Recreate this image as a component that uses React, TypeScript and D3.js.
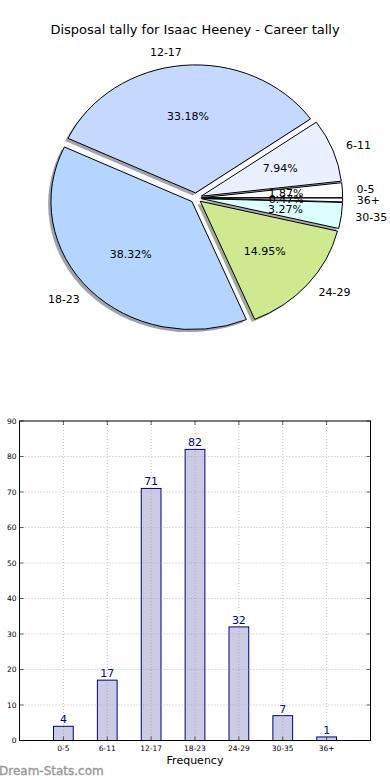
import React from 'react';
import * as d3 from 'd3';

// Disposal counts per bucket
const categories = ['0-5', '6-11', '12-17', '18-23', '24-29', '30-35', '36+'];
const counts = [4, 17, 71, 82, 32, 7, 1];
const sliceColors = ['#ffffff', '#eaf0ff', '#c5d9ff', '#b4d5ff', '#cfea8e', '#dbffff', '#ffffff'];
const yTicks = [0, 10, 20, 30, 40, 50, 60, 70, 80, 90];

const title = 'Disposal tally for Isaac Heeney - Career tally';
const font = '"DejaVu Sans", Verdana, sans-serif';

// pie geometry (matplotlib pie squashed into an ellipse)
const cx = 196;
const cy = 198;
const rx = 141;
const ry = 128;
const R = 100;
const explode = 4;

// bar axes box
const left = 19.5;
const right = 370.5;
const top = 421;
const bottom = 740.5;

const App: React.FC = () => {
  const total = d3.sum(counts);

  // matplotlib starts at 3 o'clock and goes counter-clockwise
  const pie = d3.pie<number>()
    .sort(null)
    .startAngle(Math.PI / 2)
    .endAngle(Math.PI / 2 - 2 * Math.PI);
  const arcs = pie(counts);
  const arc = d3.arc<d3.PieArcDatum<number>>().innerRadius(0).outerRadius(R);

  const sx = rx / R;
  const sy = ry / R;

  const slices = arcs.map((a, i) => {
    const mid = (a.startAngle + a.endAngle) / 2;
    const ox = Math.sin(mid) * explode;
    const oy = -Math.cos(mid) * explode;
    const lx = cx + sx * (ox + 1.1 * R * Math.sin(mid));
    const ly = cy + sy * (oy - 1.1 * R * Math.cos(mid));
    const px = cx + sx * (ox + 0.6 * R * Math.sin(mid));
    const py = cy + sy * (oy - 0.6 * R * Math.cos(mid));
    return { a, i, ox, oy, lx, ly, px, py };
  });

  const x = d3.scaleLinear().domain([-1, 7]).range([left, right]);
  const y = d3.scaleLinear().domain([0, 90]).range([bottom, top]);
  const barW = x(0.45) - x(0);

  return (
    <svg width={390} height={780} style={{ position: 'absolute', left: 0, top: 0 }} fontFamily={font}>
      <rect width={390} height={780} fill="#fff" />
      <text x={195} y={34} textAnchor="middle" fontSize={13}>{title}</text>

      <g transform={`translate(${cx},${cy}) scale(${sx},${sy})`}>
        {slices.map(s => (
          <path
            key={'sh' + s.i}
            d={arc(s.a) || ''}
            transform={`translate(${s.ox - 2},${s.oy + 2})`}
            fill={d3.interpolateRgb('#ffffff', d3.rgb(sliceColors[s.i]).darker(3).formatHex())(0.5)}
          />
        ))}
        {slices.map(s => (
          <path
            key={'w' + s.i}
            d={arc(s.a) || ''}
            transform={`translate(${s.ox},${s.oy})`}
            fill={sliceColors[s.i]}
            stroke="#000"
            strokeWidth={1}
            vectorEffect="non-scaling-stroke"
          />
        ))}
      </g>

      {slices.map(s => (
        <text
          key={'l' + s.i}
          x={s.lx}
          y={s.ly}
          dy="0.35em"
          fontSize={11}
          textAnchor={s.lx > cx ? 'start' : 'end'}
        >
          {categories[s.i]}
        </text>
      ))}
      {slices.map(s => (
        <text key={'p' + s.i} x={s.px} y={s.py} dy="0.35em" fontSize={11} textAnchor="middle">
          {((counts[s.i] / total) * 100).toFixed(2)}%
        </text>
      ))}

      {/* bar chart */}
      {counts.map((v, i) => (
        <g key={'b' + i}>
          <rect
            x={x(i) - barW / 2}
            y={y(v)}
            width={barW}
            height={y(0) - y(v)}
            fill="#cbcbe4"
            stroke="#000080"
            strokeWidth={1}
          />
          <text x={x(i)} y={y(v) - 3} textAnchor="middle" fontSize={11} fill="#000080">{v}</text>
        </g>
      ))}
      {yTicks.map(t => (
        <g key={'y' + t}>
          <line x1={left} x2={right} y1={y(t)} y2={y(t)} stroke="#999" strokeWidth={0.6} strokeDasharray="1,2" />
          <line x1={left} x2={left + 4} y1={y(t)} y2={y(t)} stroke="#000" strokeWidth={0.6} />
          <line x1={right - 4} x2={right} y1={y(t)} y2={y(t)} stroke="#000" strokeWidth={0.6} />
          <text x={left - 3} y={y(t)} dy="0.35em" textAnchor="end" fontSize={7.5}>{t}</text>
        </g>
      ))}
      {categories.map((c, i) => (
        <g key={'x' + c}>
          <line x1={x(i)} x2={x(i)} y1={top} y2={bottom} stroke="#999" strokeWidth={0.6} strokeDasharray="1,2" />
          <line x1={x(i)} x2={x(i)} y1={bottom} y2={bottom - 4} stroke="#000" strokeWidth={0.6} />
          <line x1={x(i)} x2={x(i)} y1={top} y2={top + 4} stroke="#000" strokeWidth={0.6} />
          <text x={x(i)} y={bottom + 10} textAnchor="middle" fontSize={7.5}>{c}</text>
        </g>
      ))}
      <rect x={left} y={top} width={right - left} height={bottom - top} fill="none" stroke="#000" strokeWidth={1} />
      <text x={(left + right) / 2} y={764} textAnchor="middle" fontSize={11}>Frequency</text>

      <text x={-1} y={775} fontSize={12} fill="#9a9a9a" stroke="#9a9a9a" strokeWidth={0.4}>Dream-Stats.com</text>
    </svg>
  );
};

export default App;
